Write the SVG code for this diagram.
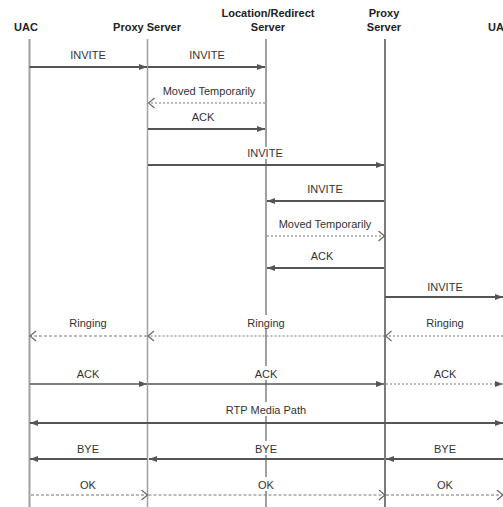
<svg xmlns="http://www.w3.org/2000/svg" width="503" height="507" viewBox="0 0 503 507">
<style>
text{font-family:"Liberation Sans",Arial,sans-serif;font-size:11px;fill:#333;text-anchor:middle}
.hd{font-weight:bold;font-size:11px;fill:#222}
.life{stroke:#a0a0a0;stroke-width:2;fill:none}
.life2{stroke:#333;stroke-width:1.3;fill:none}
.sol{stroke:#555;stroke-width:2;fill:none;marker-end:url(#fh)}
.dsh{stroke:#777;stroke-width:1;stroke-dasharray:3 2;fill:none;marker-end:url(#oh)}
.dot{stroke:#777;stroke-width:1;stroke-dasharray:2 2;fill:none;marker-end:url(#fh)}
.bg{fill:#fff}
</style>
<defs>
<marker id="fh" markerUnits="userSpaceOnUse" markerWidth="9" markerHeight="7" refX="8" refY="3" orient="auto-start-reverse"><path d="M0,0 L8,3 L0,6 z" fill="#555"/></marker>
<marker id="oh" markerUnits="userSpaceOnUse" markerWidth="8" markerHeight="12" refX="7" refY="5.5" orient="auto"><path d="M1,0.5 L7,5.5 L1,10.5" fill="none" stroke="#666" stroke-width="1.2"/></marker>
</defs>
<g id="uac"><text class="hd" x="26" y="31">UAC</text><line class="life" x1="29.5" y1="39" x2="29.5" y2="507"/></g>
<g id="proxy1"><text class="hd" x="147" y="31">Proxy Server</text><line class="life" x1="147.5" y1="39" x2="147.5" y2="507" style="stroke-width:1.5"/></g>
<g id="redirect"><text class="hd" x="268" y="16.5">Location/Redirect</text><text class="hd" x="268" y="31">Server</text><line class="life" x1="266" y1="39" x2="266" y2="507"/></g>
<g id="proxy2"><text class="hd" x="384" y="16.5">Proxy</text><text class="hd" x="384" y="31">Server</text><line class="life2" x1="385" y1="39" x2="385" y2="507"/></g>
<g id="uas"><text class="hd" x="488" y="31" style="text-anchor:start">UA</text></g>
<g id="connectors">
<line class="sol" x1="29.5" y1="67" x2="147" y2="67"/><text x="88" y="59">INVITE</text>
<line class="sol" x1="148" y1="67" x2="265" y2="67"/><text x="207" y="59">INVITE</text>
<line class="dsh" x1="265" y1="103" x2="148.5" y2="103" style="stroke-dasharray:2 2"/><text x="209" y="95">Moved Temporarily</text>
<line class="sol" x1="148" y1="129" x2="265" y2="129"/><text x="203" y="121">ACK</text>
<line class="sol" x1="148" y1="165" x2="384" y2="165"/><rect class="bg" x="246" y="147" width="40" height="12"/><text x="265" y="157">INVITE</text>
<line class="sol" x1="384" y1="201" x2="267" y2="201"/><text x="325" y="193">INVITE</text>
<line class="dsh" x1="267" y1="236" x2="384.5" y2="236" style="stroke-dasharray:2 2"/><text x="325" y="228">Moved Temporarily</text>
<line class="sol" x1="384" y1="268" x2="267" y2="268"/><text x="322" y="260">ACK</text>
<line class="sol" x1="385" y1="297" x2="503" y2="297"/><text x="445" y="291">INVITE</text>
<line class="dsh" x1="503" y1="336" x2="385.5" y2="336" style="stroke-dasharray:2 2"/><text x="445" y="327">Ringing</text>
<line class="dsh" x1="384.5" y1="336" x2="148" y2="336" style="stroke-dasharray:2 2"/><rect class="bg" x="244" y="315" width="44" height="14"/><text x="266" y="327">Ringing</text>
<line class="dsh" x1="147" y1="336" x2="30" y2="336"/><text x="88" y="327">Ringing</text>
<line class="sol" x1="30" y1="384" x2="147" y2="384" style="stroke-width:1.5"/><text x="88" y="378">ACK</text>
<line class="sol" x1="148" y1="384" x2="384" y2="384" style="stroke-width:1.5"/><rect class="bg" x="252" y="366" width="28" height="14"/><text x="266" y="378">ACK</text>
<line class="dot" x1="386" y1="384" x2="503" y2="384"/><text x="445" y="378">ACK</text>
<line class="sol" x1="30" y1="423" x2="503" y2="423" style="marker-start:url(#fh)"/><rect class="bg" x="222" y="402" width="88" height="14"/><text x="266" y="414">RTP Media Path</text>
<line class="sol" x1="503" y1="459" x2="386" y2="459"/><text x="445" y="453">BYE</text>
<line class="sol" x1="384" y1="459" x2="149" y2="459"/><rect class="bg" x="253" y="441" width="26" height="14"/><text x="266" y="453">BYE</text>
<line class="sol" x1="147" y1="459" x2="30" y2="459"/><text x="88" y="453">BYE</text>
<line class="dsh" x1="31" y1="495" x2="147.5" y2="495"/><text x="88" y="489">OK</text>
<line class="dsh" x1="148.5" y1="495" x2="385" y2="495"/><rect class="bg" x="255" y="477" width="22" height="14"/><text x="266" y="489">OK</text>
<line class="dsh" x1="386" y1="495" x2="503" y2="495"/><text x="445" y="489">OK</text>
</g>
</svg>
